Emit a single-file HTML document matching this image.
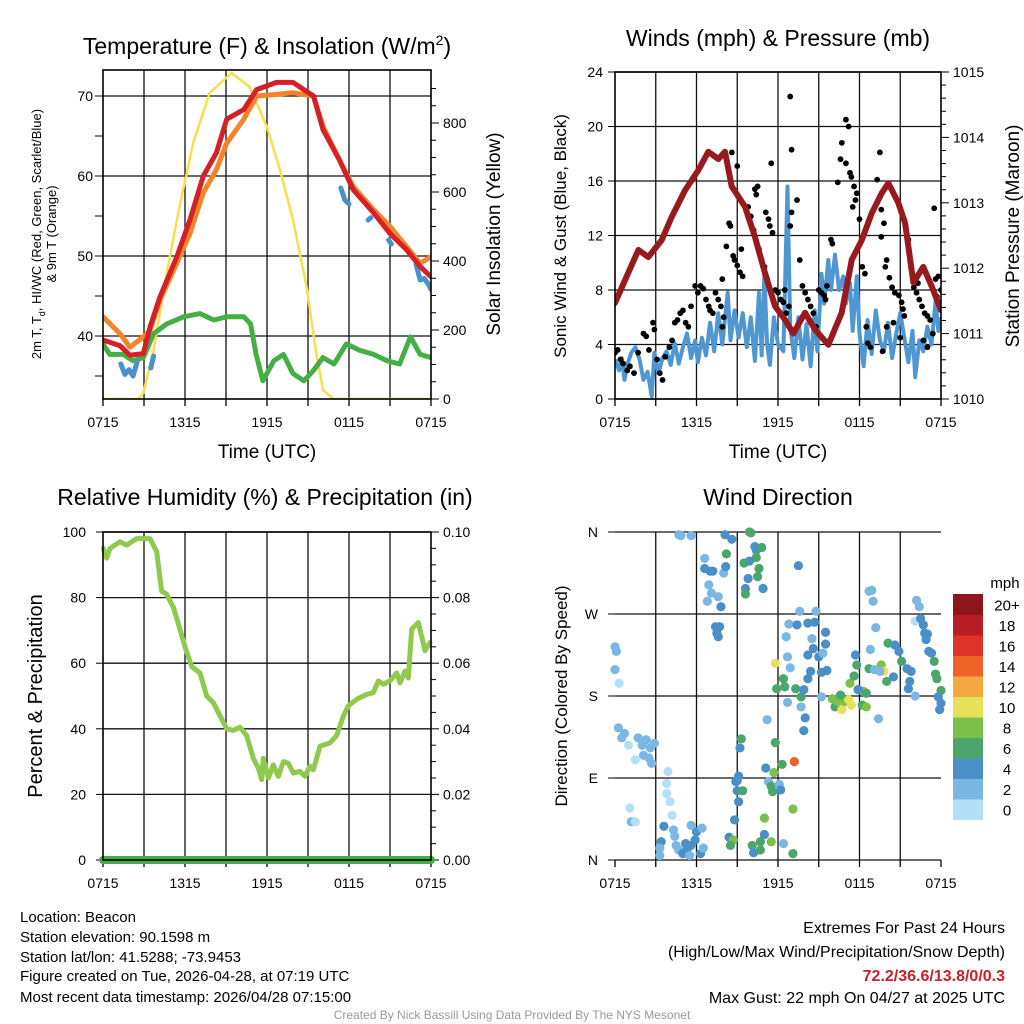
<!DOCTYPE html>
<html><head><meta charset="utf-8">
<style>
html,body{margin:0;padding:0;background:#fff;}
svg{display:block;font-family:"Liberation Sans",Arial,sans-serif;}
</style></head>
<body>
<svg id="root" width="1024" height="1024" viewBox="0 0 1024 1024" xmlns="http://www.w3.org/2000/svg">
<rect width="1024" height="1024" fill="#fff"/>
<g id="p1"></g>
<g id="p2"></g>
<g id="p3"></g>
<g id="p4"></g>

<text x="267" y="54" font-size="23" text-anchor="middle">Temperature (F) &amp; Insolation (W/m<tspan dy="-9" font-size="14">2</tspan><tspan dy="9">)</tspan></text>
<text x="778" y="46" font-size="23" text-anchor="middle">Winds (mph) &amp; Pressure (mb)</text>
<text x="265" y="505" font-size="23" text-anchor="middle">Relative Humidity (%) &amp; Precipitation (in)</text>
<text x="778" y="505" font-size="23" text-anchor="middle">Wind Direction</text>

<text x="267" y="458" font-size="19" text-anchor="middle">Time (UTC)</text>
<text x="778" y="458" font-size="19" text-anchor="middle">Time (UTC)</text>

<text transform="translate(41,234) rotate(-90)" font-size="13" text-anchor="middle">2m T, T<tspan dy="4" font-size="9">d</tspan><tspan dy="-4">, HI/WC (Red, Green, Scarlet/Blue)</tspan></text>
<text transform="translate(56,234) rotate(-90)" font-size="13" text-anchor="middle">&amp; 9m T (Orange)</text>
<text transform="translate(500,234) rotate(-90)" font-size="19" text-anchor="middle">Solar Insolation (Yellow)</text>
<text transform="translate(566,236) rotate(-90)" font-size="17" text-anchor="middle">Sonic Wind &amp; Gust (Blue, Black)</text>
<text transform="translate(1019,236) rotate(-90)" font-size="19" text-anchor="middle">Station Pressure (Maroon)</text>
<text transform="translate(42,696) rotate(-90)" font-size="20" text-anchor="middle">Percent &amp; Precipitation</text>
<text transform="translate(567,696) rotate(-90)" font-size="17" text-anchor="middle">Direction (Colored By Speed)</text>

<g font-size="15">
<text x="20" y="922">Location: Beacon</text>
<text x="20" y="942">Station elevation: 90.1598 m</text>
<text x="20" y="962">Station lat/lon: 41.5288; -73.9453</text>
<text x="20" y="981">Figure created on Tue, 2026-04-28, at 07:19 UTC</text>
<text x="20" y="1002">Most recent data timestamp: 2026/04/28 07:15:00</text>
</g>
<g font-size="16" text-anchor="end">
<text x="1005" y="933">Extremes For Past 24 Hours</text>
<text x="1005" y="957">(High/Low/Max Wind/Precipitation/Snow Depth)</text>
<text x="1005" y="981" fill="#c8202a" font-weight="bold">72.2/36.6/13.8/0/0.3</text>
<text x="1005" y="1003">Max Gust: 22 mph On 04/27 at 2025 UTC</text>
</g>
<text x="512" y="1019" font-size="12" fill="#999" text-anchor="middle">Created By Nick Bassill Using Data Provided By The NYS Mesonet</text>
</svg>
<script>
// ===== Data (hours since 0715 UTC) =====
const xTickLabels = ["0715","1315","1915","0115","0715"];
// Temperature panel
const tempT = [0,1.24,1.97,2.95,3.44,4.17,5.4,6.36,7.34,8.3,9.05,10.3,11.24,12.7,13.9,15.4,16.1,17.3,18.3,19.8,21,22.2,23.2,24];
const temp2m = [39.5,38.8,37.6,37.8,41.1,44.9,49.9,54.5,60,62.9,67.1,68.3,70.8,71.7,71.7,70,65.8,62,58.3,55.4,52.8,50.8,48.7,47.4];
const temp9m = [42.4,40.3,38.6,39.9,40.7,44.5,49.1,52.8,57.9,60.8,64.1,67.1,70,70.2,70.4,70,66.2,62,58.7,55.8,53.7,51.2,49.1,49.9];
const dewT = [0,0.5,1.5,2.2,2.95,3.7,4.66,5.9,7.1,8.1,9.05,10.3,10.8,11.2,11.7,12.5,13.2,13.9,14.7,15.4,16.1,16.9,17.8,18.8,19.8,20.8,21.7,22.5,23.2,24];
const dewV = [39,37.7,37.7,36.9,37.3,40.3,41.5,42.4,42.8,42,42.4,42.4,41.5,37.7,34.4,36.9,37.7,35.3,34.4,35.7,37.3,36.5,39,38.2,37.7,36.9,36.5,39.9,37.7,37.3];
const hiT = [1.3,1.6,1.9,2.2,2.5,2.6,3.5,3.7,3.8,17.4,17.7,18.0,18.1,19.4,19.6,19.7,20.9,21.1,21.2,22.9,23.2,23.5,23.8,24];
const hiV = [36.5,35.2,35.8,35,36.8,null,36,37.5,null,58.5,57,56.5,null,54.5,54.8,null,52,51.5,null,49,47,47.2,46.5,45.8];
const solarT = [0,2.6,2.95,3.7,4.66,5.6,6.6,7.8,9.4,10.75,12,12.95,13.9,14.9,15.6,16.1,16.85,24];
const solarV = [0,0,17,142,365,557,742,887,945,904,788,664,519,325,133,26,0,0];
const tempTicks = [40,50,60,70];
const solarTicks = [0,200,400,600,800];
// Wind panel
const windT = [0,0.3,0.5,0.7,0.9,1.2,1.5,1.8,2.1,2.4,2.7,2.9,3.2,3.5,3.8,4.1,4.4,4.7,5.0,5.3,5.6,5.9,6.1,6.4,6.7,7.0,7.3,7.6,7.9,8.3,8.5,8.8,9.1,9.4,9.7,10.0,10.3,10.6,10.8,11.0,11.2,11.4,11.7,12.0,12.4,12.7,12.9,13.2,13.5,13.8,14.1,14.4,14.7,14.9,15.2,15.4,15.7,15.9,16.2,16.5,16.8,17.0,17.3,17.5,17.8,18.0,18.3,18.6,18.9,19.2,19.5,19.8,20.1,20.4,20.7,21.0,21.3,21.6,21.9,22.1,22.4,22.7,23.0,23.3,23.6,23.8,24.0];
const windV = [2.9,2.1,3.0,1.4,2.5,3.4,3.8,2.9,1.4,2.0,0.2,3.4,1.9,3.0,3.5,2.5,4.1,2.6,3.8,4.8,3.0,4.3,2.7,4.5,3.2,5.6,3.5,6.3,4.0,7.8,4.3,6.5,4.5,6.3,3.8,6.0,2.8,7.8,3.2,9.2,4.0,2.5,6.0,4.0,3.5,15.6,5.3,3.0,6.0,2.9,5.5,2.4,6.5,3.5,9.2,7.0,10.2,8.0,10.6,8.0,9.0,7.0,8.5,5.0,9.0,4.8,2.4,5.8,3.3,6.5,4.3,3.5,5.6,3.0,4.8,6.3,4.5,2.7,5.0,1.6,4.3,3.5,5.3,4.0,7.2,5.0,6.0];
const gustT = [0,0.2,0.4,0.6,0.9,1.1,1.4,1.7,2.1,2.3,2.5,2.8,2.9,3.1,3.3,3.5,3.7,4.0,4.2,4.4,4.6,4.8,5.0,5.2,5.4,5.6,5.9,6.1,6.3,6.5,6.7,6.9,7.0,7.2,7.4,7.6,7.8,8.0,7.9,7.9,8.2,8.4,8.5,8.7,8.8,9.0,9.2,9.4,9.3,8.6,9.0,9.8,10.0,10.2,10.4,10.5,10.3,10.6,10.8,11.0,11.2,11.4,11.6,11.3,11.1,11.5,11.8,12.0,12.2,12.4,12.6,12.8,12.5,12.9,13.0,13.0,12.9,13.4,13.6,13.8,14.0,14.2,14.4,14.6,14.8,15.0,15.2,15.4,15.5,15.6,15.9,16.0,16.4,16.7,17.0,17.2,16.6,17.0,17.3,17.4,17.6,17.8,17.7,17.5,18.0,18.2,18.4,18.5,18.6,18.8,19.5,19.3,19.6,19.8,19.6,20.0,19.9,20.2,20.4,20.6,20.9,21.1,21.2,21.3,20.5,20.0,21.6,21.8,22.0,22.2,22.4,22.6,22.8,23.0,23.2,23.4,23.0,23.6,23.8,23.5,23.7,24.0,22.7,21.0,19.7,22.3];
const gustV = [3.4,3.6,2.9,2.6,2.1,2.4,1.9,3.4,4.8,4.6,3.6,5.6,5.1,2.9,1.9,1.4,3.1,3.8,4.3,5.6,5.8,6.3,6.5,5.6,5.3,6.8,8.3,7.8,8.3,8.1,7.3,6.8,6.5,6.3,7.8,7.3,6.8,6.0,5.3,8.8,11.2,12.9,12.7,10.5,10.2,9.8,9.3,9.0,11.0,18.1,17.1,14.1,13.4,12.4,15.0,15.6,15.4,11.0,10.2,9.7,8.8,12.7,12.2,13.2,13.7,17.3,8.0,7.8,7.3,7.1,6.3,6.8,8.0,12.7,13.7,18.3,22.2,14.6,10.2,8.3,7.8,7.3,6.8,6.3,5.3,8.0,7.8,7.6,7.3,8.3,11.7,11.4,15.9,18.8,20.5,20.0,17.6,17.3,16.6,16.3,15.6,15.1,14.6,14.1,13.2,9.7,9.2,5.3,4.1,3.8,18.1,16.1,13.9,12.9,11.9,10.2,9.7,8.9,8.2,7.8,7.6,7.1,6.6,6.1,5.6,5.3,11.7,9.7,8.2,7.8,7.3,6.8,6.3,6.1,5.8,4.8,3.8,8.8,9.0,14.0,7.5,8.0,4.3,4.5,3.5,8.5];
const presT = [0,0.74,1.72,2.45,3.44,4.17,5.15,6.14,6.87,7.61,8.1,8.59,9.57,10.3,11.05,11.78,12.52,13.13,13.99,14.73,15.71,16.69,17.43,18.17,18.9,19.64,20.13,20.86,21.36,21.97,22.7,23.32,24];
const presV = [1011.47,1011.82,1012.28,1012.17,1012.43,1012.78,1013.19,1013.5,1013.78,1013.67,1013.78,1013.25,1012.94,1012.48,1011.92,1011.42,1011.21,1011.0,1011.32,1011.06,1010.83,1011.32,1012.13,1012.43,1012.84,1013.15,1013.3,1013.0,1012.69,1011.78,1012.02,1011.72,1011.36];
const windTicks = [0,4,8,12,16,20,24];
const presTicks = [1010,1011,1012,1013,1014,1015];
// Humidity panel
const rhT = [0.02,0.27,0.51,1.24,1.73,2.46,3.44,3.93,4.29,4.66,5.15,5.51,6,6.49,7.1,7.59,8.07,8.56,9.05,9.54,10.02,10.51,11,11.37,11.61,11.73,12.1,12.46,12.83,13.2,13.56,13.93,14.41,14.78,15.15,15.39,15.88,16.6,17.1,17.59,17.95,18.56,19.29,19.78,20.15,20.51,21,21.49,21.73,22.1,22.34,22.59,23.07,23.56,23.93];
const rhV = [95,92,95,97,96,98,98,94,82,81,77,72,65,59,57,50,48,44,40,39.5,40.5,38,31,28,24.5,31,25,29,25.5,30,29.5,26.5,27,25.5,28.6,27.5,34.7,35.7,38,43.9,47,49,50.5,51,54.6,53.6,54.6,57,54,57.6,55.5,70.4,72.4,63.8,66.3];
const precipT = [0,24];
const precipV = [0,0];
const rhTicks = [0,20,40,60,80,100];
const precipTicks = ["0.00","0.02","0.04","0.06","0.08","0.10"];
// Wind direction panel
const dirT = [0,0.1,0,0.3,0.25,0.5,0.7,1.0,1.7,2.0,2.3,2.6,2.9,2.1,2.5,2.7,1.5,1.1,1.2,1.5,3.9,3.8,3.8,4.05,4.2,3.6,3.4,3.3,3.3,4.3,4.4,4.5,4.7,5.0,5.3,5.6,5.9,6.0,6.4,5.6,5.2,6.3,6.5,5.5,4.7,4.85,5.6,8.1,8.6,6.6,6.6,7.0,7.2,8.0,8.2,8.15,6.9,7.1,7.6,6.8,7.8,7.4,7.7,7.5,7.6,9.9,10.0,10.3,10.4,10.8,10.4,9.9,9.5,10.6,10.5,9.8,10.9,9.6,9.6,13.5,9.1,9.0,8.9,9.0,9.4,9.1,8.8,8.4,8.7,8.5,9.3,9.2,11.1,11.7,11.8,12.3,13.2,11.3,11.5,11.6,12.1,12.2,11.0,11.0,11.5,10.7,10.1,10.2,10.7,12.4,13.1,13.1,11.2,11.8,12.4,12.5,11.9,13.3,13.7,13.9,12.9,12.7,12.6,12.8,13.4,13.6,14.2,14.7,14.5,14.8,15.5,15.5,14.6,15.0,15.3,14.2,14.4,14.2,15.2,15.6,13.7,12.7,14.0,13.9,15.2,16.0,16.2,16.4,16.7,16.9,17.2,17.4,16.6,17.3,17.6,17.9,18.3,18.5,18.2,18.5,17.7,17.8,18.7,19.1,19.6,19.8,20.0,20.5,20.1,20.6,20.9,21.1,21.5,21.8,21.7,21.6,22.1,19.5,18.8,19.2,18.7,19.0,18.9,19.4,17.9,22.2,22.4,22.1,22.5,22.7,22.8,23.0,22.9,23.1,23.3,23.5,23.6,23.7,24.0,23.8,24.0,23.9];
const dirV = [234,229,209,194,145,134,139,126,134,126,132,123,128,115,112,106,110,57,42,42,97,84,73,64,49,37,20,13,5,33,26,16,11,7,11,16,22,31,35,38,18,7,13,5,357,356,356,357,352,331,320,317,317,315,336,322,302,293,289,284,278,256,256,249,245,360,359,344,340,343,332,328,326,320,311,309,298,298,292,323,92,87,86,76,76,64,44,25,22,16,133,123,101,96,129,105,108,86,81,75,83,77,46,28,20,20,16,8,11,18,7,56,154,216,199,190,188,188,179,187,211,223,245,259,258,273,260,261,243,273,250,237,232,223,227,225,207,199,206,208,168,173,156,142,179,177,168,174,165,174,176,170,181,194,202,187,185,183,170,168,225,214,210,209,214,207,196,201,238,236,229,218,210,207,196,188,180,207,231,255,295,284,296,155,187,285,278,262,265,258,249,248,242,229,227,218,204,199,186,179,172,165];
const dirS = [2,2,2,0,2,2,2,0,2,2,2,2,2,2,2,2,0,0,2,0,0,0,0,0,0,4,4,2,2,2,2,2,2,4,4,4,4,4,2,2,4,4,2,2,2,2,2,4,4,2,4,4,4,2,6,4,2,2,2,2,4,4,4,4,4,6,6,4,4,6,6,4,6,6,6,4,4,4,6,4,4,4,4,4,6,4,4,4,8,6,6,4,4,8,6,6,14,2,6,6,2,4,8,4,8,6,6,4,6,2,6,8,2,10,6,6,6,6,6,4,2,2,2,2,4,2,4,4,2,2,4,4,4,4,2,4,4,4,4,4,2,2,4,4,2,8,6,8,10,8,10,10,6,8,6,6,8,6,6,8,4,6,6,2,8,10,6,4,6,4,4,6,4,4,4,4,2,2,2,2,2,2,2,2,4,2,2,0,4,4,4,4,4,4,4,6,6,6,6,4,4,4];
const dirTickLabels = ["N","E","S","W","N"];
const speedBins = ["0","2","4","6","8","10","12","14","16","18","20+"];
const speedColors = ["#b3e0f7","#7ab8e3","#4a8fc7","#4aa66a","#7cc04a","#e6e05a","#f5a742","#ee6228","#de3328","#b81c24","#8c161a"];

// ===== helpers =====
const NS = "http://www.w3.org/2000/svg";
function mk(parent, tag, attrs){ const e=document.createElementNS(NS,tag); for(const k in attrs) e.setAttribute(k,attrs[k]); parent.appendChild(e); return e; }
function lin(d0,d1,r0,r1){ return v => r0 + (v-d0)*(r1-r0)/(d1-d0); }
function pathFrom(ts, vs, sx, sy){
  let d="", pen=false;
  for(let i=0;i<ts.length;i++){
    if(vs[i]===null||vs[i]===undefined){pen=false;continue;}
    d += (pen?"L":"M") + sx(ts[i]).toFixed(1) + "," + sy(vs[i]).toFixed(1);
    pen=true;
  }
  return d;
}
function frame(g, x0, y0, x1, y1, hLines, vLines){
  for(const y of hLines){ const l=mk(g,"line",{x1:x0,x2:x1,y1:y,y2:y,stroke:"#111","stroke-width":1.3});
    
     }
  for(const x of vLines){ const l=mk(g,"line",{x1:x,x2:x,y1:y0,y2:y1,stroke:"#111","stroke-width":1.3});
    
     }
}
function border(g,x0,y0,x1,y1){
  const r=mk(g,"rect",{x:x0,y:y0,width:x1-x0,height:y1-y0,fill:"none",stroke:"#000","stroke-width":1.6});
  
  
}
function label(g, x, y, txt, anchor, size, name){
  const t=mk(g,"text",{x:x,y:y,"font-size":size||14,"text-anchor":anchor||"middle"});
  t.textContent=txt;
  
  
  return t;
}
function xAxis(g, x0, x1, yb){
  const sx=lin(0,24,x0,x1);
  for(let h=0;h<=24;h+=3){ const l=mk(g,"line",{x1:sx(h),x2:sx(h),y1:yb,y2:yb+7,stroke:"#000","stroke-width":1.3});
    
     }
  xTickLabels.forEach((s,i)=>label(g,sx(i*6),yb+28,s,"middle",14,'x-tick-label'));
  return sx;
}

// ===== Panel 1: temperature =====
(function(){
  const g=document.getElementById("p1");
  const x0=103,x1=431,y0=70,y1=399;
  const sx=lin(0,24,x0,x1);
  const sy=lin(40,70,336,96);
  const sr=lin(0,800,399,123);
  frame(g,x0,y0,x1,y1,tempTicks.map(sy),[3,6,9,12,15,18,21].map(sx));
  for(let v=35;v<=70;v+=5){ const l=mk(g,"line",{x1:x0-8,x2:x0,y1:sy(v),y2:sy(v),stroke:"#000","stroke-width":1});
    
     }
  tempTicks.forEach(v=>label(g,x0-10,sy(v)+5,String(v),"end",14,'temp-tick-label'));
  for(let v=0;v<=900;v+=50){ const l=mk(g,"line",{x1:x1,x2:x1+(v%200===0?8:5),y1:sr(v),y2:sr(v),stroke:"#000","stroke-width":1});
    
     }
  solarTicks.forEach(v=>label(g,x1+12,sr(v)+5,String(v),"start",14,'solar-tick-label'));
  xAxis(g,x0,x1,y1);
  const clip=mk(g,"clipPath",{id:"c1"}); mk(clip,"rect",{x:x0,y:y0,width:x1-x0,height:y1-y0});
  const pg=mk(g,"g",{"clip-path":"url(#c1)"});
  const common={fill:"none","stroke-linejoin":"round","stroke-linecap":"round"};
  let p;
  p=mk(pg,"path",Object.assign({d:pathFrom(solarT,solarV,sx,sr),stroke:"#f7e04a","stroke-width":2.5},common));
   
  p=mk(pg,"path",Object.assign({d:pathFrom(dewT,dewV,sx,sy),stroke:"#44b044","stroke-width":5},common));
   
  p=mk(pg,"path",Object.assign({d:pathFrom(hiT,hiV,sx,sy),stroke:"#4a90cc","stroke-width":5},common));
   
  p=mk(pg,"path",Object.assign({d:pathFrom(tempT,temp9m,sx,sy),stroke:"#f4842a","stroke-width":5},common));
   
  p=mk(pg,"path",Object.assign({d:pathFrom(tempT,temp2m,sx,sy),stroke:"#d42026","stroke-width":5},common));
   
  border(g,x0,y0,x1,y1);
})();

// ===== Panel 2: winds & pressure =====
(function(){
  const g=document.getElementById("p2");
  const x0=615,x1=941,y0=72,y1=399;
  const sx=lin(0,24,x0,x1);
  const sy=lin(0,24,y1,y0);
  const sp=lin(1010,1015,y1,y0);
  frame(g,x0,y0,x1,y1,windTicks.map(sy),[3,6,9,12,15,18,21].map(sx));
  windTicks.forEach(v=>{ const l=mk(g,"line",{x1:x0-7,x2:x0,y1:sy(v),y2:sy(v),stroke:"#000"});
     
    label(g,x0-12,sy(v)+5,String(v),"end",14,'wind-tick-label'); });
  for(let v=1010;v<=1015.01;v+=0.2){ const l=mk(g,"line",{x1:x1,x2:x1+(Math.abs(v-Math.round(v))<0.01?8:5),y1:sp(v),y2:sp(v),stroke:"#000"});
      }
  presTicks.forEach(v=>label(g,x1+12,sp(v)+5,String(v),"start",14,'pressure-tick-label'));
  xAxis(g,x0,x1,y1);
  const clip=mk(g,"clipPath",{id:"c2"}); mk(clip,"rect",{x:x0,y:y0,width:x1-x0,height:y1-y0});
  const pg=mk(g,"g",{"clip-path":"url(#c2)"});
  let p=mk(pg,"path",{d:pathFrom(windT,windV,sx,sy),fill:"none",stroke:"#4f97d2","stroke-width":4,"stroke-linejoin":"round"});
   
  for(let i=0;i<gustT.length;i++){
    const c=mk(pg,"circle",{cx:sx(gustT[i]),cy:sy(gustV[i]),r:2.9,fill:"#000"});
    
    
  }
  p=mk(pg,"path",{d:pathFrom(presT,presV,sx,sp),fill:"none",stroke:"#981a1e","stroke-width":6,"stroke-linejoin":"round","stroke-linecap":"round"});
   
  border(g,x0,y0,x1,y1);
})();

// ===== Panel 3: RH & precip =====
(function(){
  const g=document.getElementById("p3");
  const x0=103,x1=431,y0=532,y1=860;
  const sx=lin(0,24,x0,x1);
  const sy=lin(0,100,y1,y0);
  frame(g,x0,y0,x1,y1,rhTicks.map(sy),[3,6,9,12,15,18,21].map(sx));
  rhTicks.forEach(v=>{ const l=mk(g,"line",{x1:x0-7,x2:x0,y1:sy(v),y2:sy(v),stroke:"#000"});
     
    label(g,x0-17,sy(v)+5,String(v),"end",14,'rh-tick-label'); });
  for(let v=0;v<=100;v+=5){ const l=mk(g,"line",{x1:x1,x2:x1+(v%20===0?8:5),y1:sy(v),y2:sy(v),stroke:"#000"});
      }
  precipTicks.forEach((s,i)=>label(g,x1+12,sy(i*20)+5,s,"start",14,'precip-tick-label'));
  xAxis(g,x0,x1,y1);
  let p=mk(g,"path",{d:pathFrom(rhT,rhV,sx,sy),fill:"none",stroke:"#8fca4e","stroke-width":5,"stroke-linejoin":"round","stroke-linecap":"round"});
   
  const spr=lin(0,0.1,y1,y0);
  p=mk(g,"path",{d:pathFrom(precipT,precipV,sx,spr),fill:"none",stroke:"#44b044","stroke-width":8,"stroke-linecap":"round"});
   
  border(g,x0,y0,x1,y1);
})();

// ===== Panel 4: wind direction =====
(function(){
  const g=document.getElementById("p4");
  const x0=615,x1=941,y0=532,y1=860;
  const sx=lin(0,24,x0,x1);
  const sy=lin(0,360,y1,y0);
  frame(g,x0,y0,x1,y1,[0,90,180,270,360].map(sy),[3,6,9,12,15,18,21].map(sx));
  dirTickLabels.forEach((s,i)=>{ const l=mk(g,"line",{x1:x0-7,x2:x0,y1:sy(i*90),y2:sy(i*90),stroke:"#000"});
     
    label(g,x0-17,sy(i*90)+5,s,"end",14,'direction-tick-label'); });
  xAxis(g,x0,x1,y1);
  const clip=mk(g,"clipPath",{id:"c4"}); mk(clip,"rect",{x:x0-5,y:y0-5,width:x1-x0+10,height:y1-y0+10});
  const pg=mk(g,"g",{"clip-path":"url(#c4)"});
  for(let i=0;i<dirT.length;i++){
    const bin=Math.min(10,Math.floor(dirS[i]/2));
    const c=mk(pg,"circle",{cx:sx(dirT[i]),cy:sy(dirV[i]),r:4.6,fill:speedColors[bin]});
    
    
  }
  const lg=mk(g,"g",{});
  
  
  const cbx=953, cbTop=594, cbH=20.5;
  label(lg,1005,588,"mph","middle",15,'colorbar-title');
  for(let i=0;i<speedBins.length;i++){
    const y=cbTop+(speedBins.length-1-i)*cbH;
    const r=mk(lg,"rect",{x:cbx,y:y,width:30,height:cbH+0.5,fill:speedColors[i]});
    
    
    label(lg,1007,y+cbH/2+6,speedBins[i],"middle",15,'colorbar-label');
  }
})();
</script>
</body></html>
